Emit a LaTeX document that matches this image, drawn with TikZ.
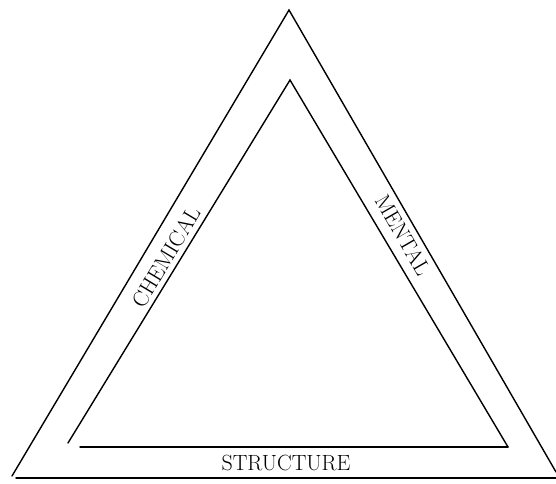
\documentclass[tikz,border=0pt]{standalone}
\usepackage{tikz}
\tikzstyle{side} = [style={line width=1.4pt,line cap=round}]
\tikzstyle{lbl} = [inner sep=0pt, font=\fontsize{22}{22}\selectfont]

\begin{document}
\begin{tikzpicture}[x=1pt,y=-1pt]
        \useasboundingbox (0,0) rectangle (556,483);
        % outer triangle
        \coordinate (otop) at (289,10);
        \coordinate (oleft) at (12,476);
        \coordinate (oright) at (556,472);
        \coordinate (obl) at (16,478);
        \coordinate (obr) at (556,478);
        % inner triangle
        \coordinate (itop) at (290,80);
        \coordinate (ileft) at (68,443);
        \coordinate (iright) at (508,447);
        \coordinate (ibl) at (80,447);
        \draw[side] (oleft) -- (otop) -- (oright);
        \draw[side] (obl) -- (obr);
        \draw[side] (ileft) -- (itop) -- (iright);
        \draw[side] (ibl) -- (iright);
        \node[lbl, rotate=59] (chem) at (166,257) {CHEMICAL};
        \node[lbl, rotate=-60] (ment) at (403,235) {MENTAL};
        \node[lbl] (struct) at (286,463) {STRUCTURE};
      \end{tikzpicture}
\end{document}
